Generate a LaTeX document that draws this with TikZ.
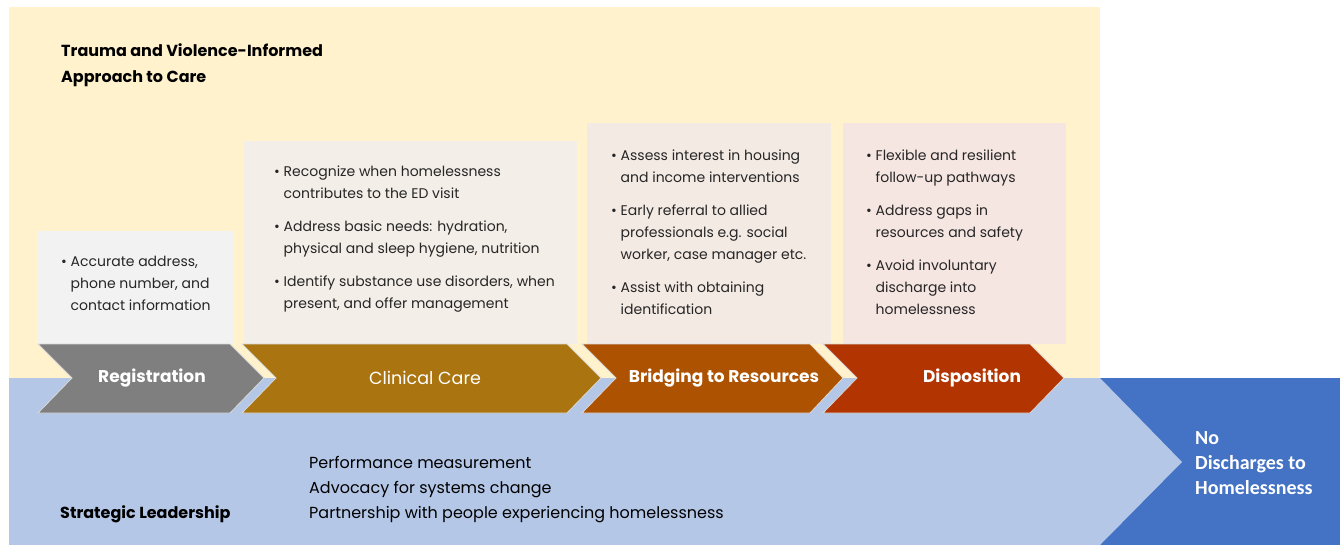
\documentclass[tikz,border=0pt]{standalone}
\usepackage{fontspec}
\setmainfont{Poppins}
\newfontfamily\calib{Carlito}
\definecolor{yellowbg}{HTML}{FFF2CC}
\definecolor{blueL}{HTML}{B4C7E7}
\definecolor{blueD}{HTML}{4472C4}
\definecolor{regC}{HTML}{7F7F7F}
\definecolor{clinC}{HTML}{AA7510}
\definecolor{bridC}{HTML}{AD5200}
\definecolor{dispC}{HTML}{B23400}
\definecolor{regbox}{HTML}{F2F2F2}
\definecolor{clinbox}{HTML}{F3EEE7}
\definecolor{bridbox}{HTML}{F4EAE4}
\definecolor{dispbox}{HTML}{F6E6E1}
\definecolor{txt}{HTML}{262626}
\newcommand\bul{\makebox[9.5pt][l]{\textbullet}}
\tikzset{
  chev/.style={draw=white!85!black, line width=0.8pt},
  chevlabel/.style={text=white, font=\fontsize{17}{20}\selectfont\bfseries},
  bullets/.style={anchor=north west, inner sep=0pt, text=txt,
    font=\fontsize{14}{22}\selectfont},
  plain/.style={anchor=west, inner sep=0pt, text=txt, align=left},
}
\begin{document}
\begin{tikzpicture}[x=1pt,y=-1pt]
\useasboundingbox (0,0) rectangle (1344,548);
\fill[white] (0,0) rectangle (1344,548);
% backgrounds
\fill[yellowbg] (9,7) rectangle (1100,378);
\fill[blueL] (9,378) rectangle (1100,545);
\fill[blueD] (1100,378) rectangle (1340,545);
\fill[blueL] (1100,378) -- (1182,462) -- (1100,545) -- cycle;
% content boxes
\fill[regbox] (38,231) rectangle (234,344);
\fill[clinbox] (244,141) rectangle (577,344);
\fill[bridbox] (587,123) rectangle (831,344);
\fill[dispbox] (843,123) rectangle (1066,344);
% chevrons
\filldraw[chev, fill=regC] (38,344) -- (230,344) -- (264,378) -- (230,413) -- (38,413) -- (72,378) -- cycle;
\filldraw[chev, fill=clinC] (242,344) -- (567,344) -- (601,378) -- (567,413) -- (242,413) -- (276,378) -- cycle;
\filldraw[chev, fill=bridC] (582,344) -- (810,344) -- (843,378) -- (810,413) -- (582,413) -- (616,378) -- cycle;
\filldraw[chev, fill=dispC] (823,344) -- (1030,344) -- (1064,378) -- (1030,413) -- (823,413) -- (857,378) -- cycle;
% chevron labels
\node[chevlabel] (lreg) at (152,378) {Registration};
\node[chevlabel, font=\fontsize{17.5}{20}\selectfont] (lclin) at (425,378) {Clinical Care};
\node[chevlabel] (lbrid) at (724,378) {Bridging to Resources};
\node[chevlabel] (ldisp) at (972,378) {Disposition};
% title
\node[plain, anchor=north west, font=\fontsize{16}{26}\selectfont\bfseries, text=black] (title) at (61,43)
  {Trauma and Violence-Informed\\Approach to Care};
% bullets
\node[bullets] (treg) at (61,250.5) {\begin{tabular}{@{}l@{}l@{}}
  \bul & Accurate address,\\ & phone number, and\\ & contact information\end{tabular}};
\node[bullets] (tclin) at (274,160.5) {\begin{tabular}{@{}l@{}l@{}}
  \bul & Recognize when homelessness\\ & contributes to the ED visit\\[11pt]
  \bul & Address basic needs: hydration,\\ & physical and sleep hygiene, nutrition\\[11pt]
  \bul & Identify substance use disorders, when\\ & present, and offer management\end{tabular}};
\node[bullets] (tbrid) at (611,144.5) {\begin{tabular}{@{}l@{}l@{}}
  \bul & Assess interest in housing\\ & and income interventions\\[11pt]
  \bul & Early referral to allied\\ & professionals e.g. social\\ & worker, case manager etc.\\[11pt]
  \bul & Assist with obtaining\\ & identification\end{tabular}};
\node[bullets] (tdisp) at (866,144.5) {\begin{tabular}{@{}l@{}l@{}}
  \bul & Flexible and resilient\\ & follow-up pathways\\[11pt]
  \bul & Address gaps in\\ & resources and safety\\[11pt]
  \bul & Avoid involuntary\\ & discharge into\\ & homelessness\end{tabular}};
% bottom
\node[plain, anchor=north west, font=\fontsize{16}{25}\selectfont, text=black] (lead) at (309,456)
  {Performance measurement\\Advocacy for systems change\\Partnership with people experiencing homelessness};
\node[plain, font=\fontsize{16}{20}\selectfont\bfseries, text=black] (strat) at (60,514) {Strategic Leadership};
\node[plain, anchor=north west, text=white, font=\calib\fontsize{20}{25}\selectfont\bfseries] (nod) at (1195,431)
  {No\\Discharges to\\Homelessness};
\end{tikzpicture}
\end{document}
